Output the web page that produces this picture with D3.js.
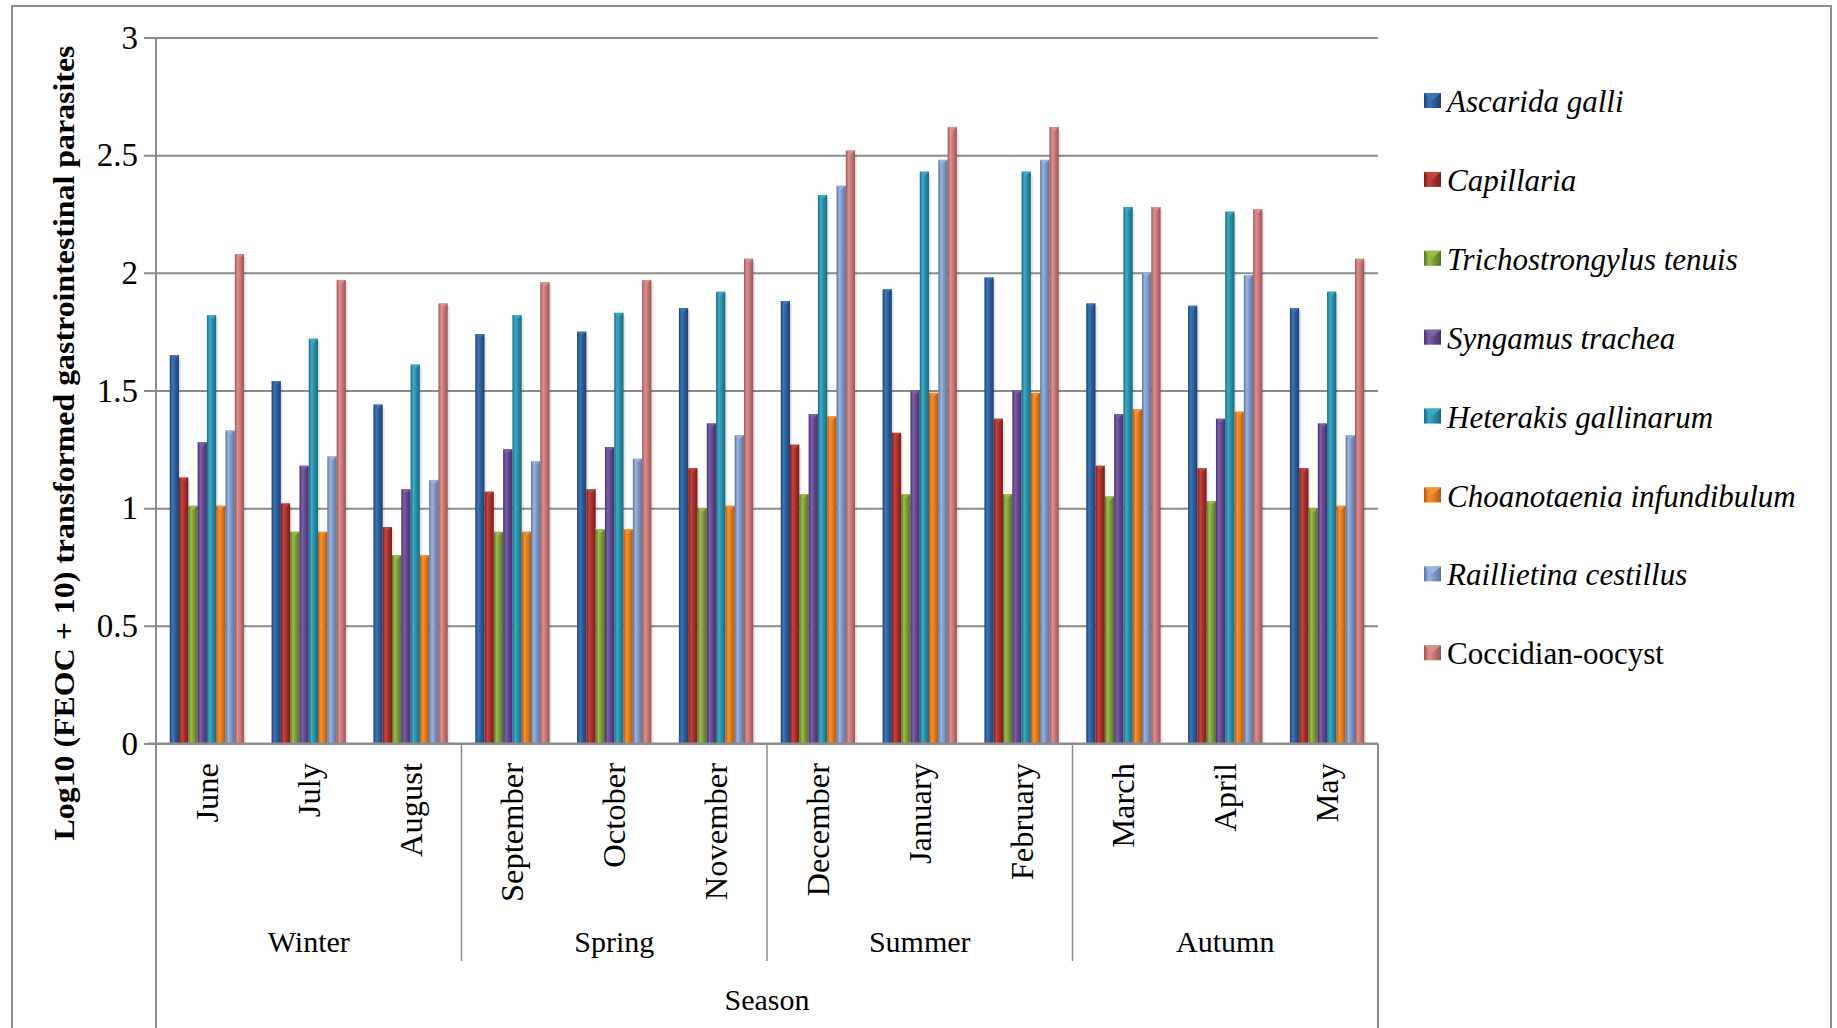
<!DOCTYPE html>
<html>
<head>
<meta charset="utf-8">
<script src="https://cdn.jsdelivr.net/npm/d3@7"></script>
<style>
  html, body { margin: 0; padding: 0; background: #fff; }
  svg { display: block; font-family: "Liberation Serif", "Times New Roman", serif; }
</style>
</head>
<body>
<svg id="chart" width="1837" height="1028"></svg>
<script>
// ---------- DATA ----------
const months = ["June","July","August","September","October","November","December","January","February","March","April","May"];
const seasons = ["Winter","Spring","Summer","Autumn"];
const seriesNames = ["Ascarida galli","Capillaria","Trichostrongylus tenuis","Syngamus trachea","Heterakis gallinarum","Choanotaenia infundibulum","Raillietina cestillus","Coccidian-oocyst"];
const seriesItalic = [true,true,true,true,true,true,true,false];
const ascarida     = [1.65,1.54,1.44,1.74,1.75,1.85,1.88,1.93,1.98,1.87,1.86,1.85];
const capillaria   = [1.13,1.02,0.92,1.07,1.08,1.17,1.27,1.32,1.38,1.18,1.17,1.17];
const trichostrong = [1.01,0.90,0.80,0.90,0.91,1.00,1.06,1.06,1.06,1.05,1.03,1.00];
const syngamus     = [1.28,1.18,1.08,1.25,1.26,1.36,1.40,1.50,1.50,1.40,1.38,1.36];
const heterakis    = [1.82,1.72,1.61,1.82,1.83,1.92,2.33,2.43,2.43,2.28,2.26,1.92];
const choanotaenia = [1.01,0.90,0.80,0.90,0.91,1.01,1.39,1.49,1.49,1.42,1.41,1.01];
const raillietina  = [1.33,1.22,1.12,1.20,1.21,1.31,2.37,2.48,2.48,2.00,1.99,1.31];
const coccidian    = [2.08,1.97,1.87,1.96,1.97,2.06,2.52,2.62,2.62,2.28,2.27,2.06];
const seriesValues = [ascarida,capillaria,trichostrong,syngamus,heterakis,choanotaenia,raillietina,coccidian];
const yTicks = [0,0.5,1,1.5,2,2.5,3];
const yTickLabels = ["0","0.5","1","1.5","2","2.5","3"];
const yTitle = "Log10 (FEOC + 10) transformed gastrointestinal parasites";
const xTitle = "Season";

// colours: [dark, light, mid]
const palette = [
  ["#1d4272","#3d74b6","#2c5c98"],
  ["#7a1d1b","#c4443f","#a52e2b"],
  ["#56712a","#9cbc4a","#7b9a37"],
  ["#47316b","#7d60a8","#61468c"],
  ["#1a6a7e","#3cabc6","#2a8ca6"],
  ["#b05a10","#f49232","#e07a1e"],
  ["#5a73a0","#9bb4da","#7d97c4"],
  ["#9a5555","#dc9090","#c57676"]
];

// ---------- LAYOUT ----------
const svg = d3.select("#chart");
const plotL = 156, plotR = 1378, plotT = 37.5, plotB = 743.5;
const gridColor = "#8c8c8c";

const defs = svg.append("defs");
palette.forEach((c,i) => {
  const g = defs.append("linearGradient").attr("id","grad"+i)
    .attr("x1","0").attr("x2","1").attr("y1","0").attr("y2","0");
  g.append("stop").attr("offset","0%").attr("stop-color",c[0]);
  g.append("stop").attr("offset","30%").attr("stop-color",c[1]);
  g.append("stop").attr("offset","60%").attr("stop-color",c[2]);
  g.append("stop").attr("offset","100%").attr("stop-color",c[0]);
});

// outer frame
svg.append("rect").attr("x",12).attr("y",6).attr("width",1819).attr("height",1040)
  .attr("fill","none").attr("stroke","#8c8c8c").attr("stroke-width",2);

const x0 = d3.scaleBand().domain(months).range([plotL, plotR]).paddingInner(0.27).paddingOuter(0.135);
const x1 = d3.scaleBand().domain(d3.range(seriesNames.length)).range([0, x0.bandwidth()]).padding(0);
const y = d3.scaleLinear().domain([0,3]).range([plotB, plotT]);

// gridlines
const yAxis = d3.axisLeft(y).tickValues(yTicks).tickFormat((d,i)=>yTickLabels[i]).tickSize(-(plotR-plotL)).tickPadding(18);
const yg = svg.append("g").attr("transform",`translate(${plotL},0)`).call(yAxis);
yg.select(".domain").remove();
yg.selectAll(".tick line").attr("stroke",gridColor).attr("stroke-width",2).attr("x1",-12);
yg.selectAll(".tick text").attr("font-size",33).attr("fill","#000")
  .attr("font-family","'Liberation Serif', serif");

// bars
const groups = svg.append("g").selectAll("g").data(months).join("g")
  .attr("transform", d => `translate(${x0(d)},0)`);
groups.each(function(m, mi) {
  const g = d3.select(this);
  seriesValues.forEach((vals, si) => {
    const v = vals[mi];
    g.append("rect")
      .attr("x", x1(si)+2).attr("y", y(v)+3)
      .attr("width", x1.bandwidth()).attr("height", plotB - y(v) - 3)
      .attr("fill","rgba(0,0,0,0.10)");
  });
  seriesValues.forEach((vals, si) => {
    const v = vals[mi];
    g.append("rect")
      .attr("x", x1(si)).attr("y", y(v))
      .attr("width", x1.bandwidth()).attr("height", plotB - y(v))
      .attr("fill", `url(#grad${si})`);
    const bx = x1(si), bw = x1.bandwidth(), by = y(v);
    g.append("path")
      .attr("d", `M${bx},${by} L${bx+bw},${by} L${bx+bw/2},${by+4} Z`)
      .attr("fill", palette[si][1]).attr("opacity",0.9);
  });
});

// axes lines
svg.append("line").attr("x1",plotL).attr("x2",plotL).attr("y1",plotT).attr("y2",1028)
  .attr("stroke",gridColor).attr("stroke-width",2);
svg.append("line").attr("x1",plotL-8).attr("x2",plotR).attr("y1",plotB).attr("y2",plotB)
  .attr("stroke",gridColor).attr("stroke-width",2);
svg.append("line").attr("x1",plotR).attr("x2",plotR).attr("y1",plotB).attr("y2",1028)
  .attr("stroke",gridColor).attr("stroke-width",2);

// season separators
const step = x0.step();
[3,6,9].forEach(k => {
  const xs = x0(months[k]) - step*x0.paddingInner()/2;
  svg.append("line").attr("x1",xs).attr("x2",xs).attr("y1",plotB).attr("y2",961)
    .attr("stroke",gridColor).attr("stroke-width",1.5);
});

// month labels
svg.append("g").selectAll("text").data(months).join("text")
  .attr("transform", d => `translate(${x0(d)+x0.bandwidth()/2+11},763) rotate(-90)`)
  .attr("text-anchor","end").attr("font-size",32.5).attr("fill","#000")
  .text(d => d);

// season labels
svg.append("g").selectAll("text").data(seasons).join("text")
  .attr("x", (d,i) => (x0(months[i*3]) + x0(months[i*3+2]) + x0.bandwidth())/2)
  .attr("y", 952).attr("text-anchor","middle").attr("font-size",30).attr("fill","#000")
  .text(d => d);

// x title
svg.append("text").attr("x",(plotL+plotR)/2).attr("y",1010).attr("text-anchor","middle")
  .attr("font-size",30).attr("fill","#000").text(xTitle);

// y title
svg.append("text").attr("transform",`translate(74,443) rotate(-90)`)
  .attr("text-anchor","middle").attr("font-size",30).attr("font-weight","bold").attr("fill","#000")
  .attr("textLength",795).attr("lengthAdjust","spacingAndGlyphs")
  .text(yTitle);

// legend
const legend = svg.append("g").attr("transform","translate(1424,102)");
const li = legend.selectAll("g").data(seriesNames).join("g")
  .attr("transform",(d,i)=>`translate(0,${i*78.9})`);
li.append("rect").attr("x",0).attr("y",-9).attr("width",17).attr("height",15)
  .attr("fill",(d,i)=>`url(#grad${i})`);
li.append("path").attr("d","M0,-9 L17,-9 L8.5,-2 Z").attr("fill",(d,i)=>palette[i][1]);
li.append("text").attr("x",23).attr("y",10).attr("font-size",31)
  .attr("font-style",(d,i)=>seriesItalic[i]?"italic":"normal").attr("fill","#000")
  .text(d => d);
</script>
</body>
</html>
